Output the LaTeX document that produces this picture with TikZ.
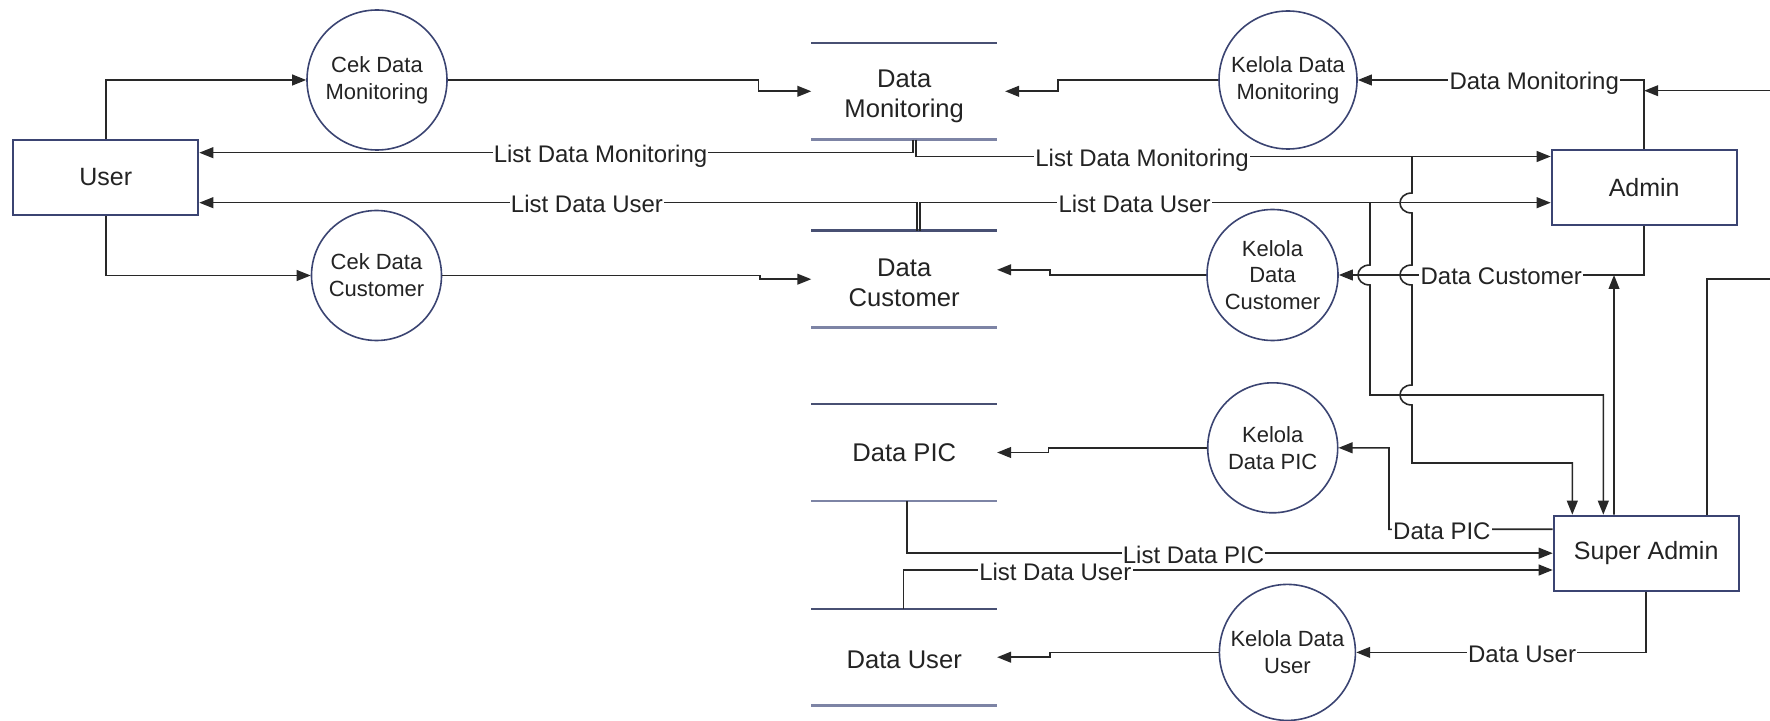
\documentclass[tikz,border=0pt]{standalone}
\usepackage{fontspec}
\setmainfont{Liberation Sans}
\usetikzlibrary{arrows.meta}
\definecolor{navy}{RGB}{59,68,114}
\definecolor{stTop}{RGB}{72,80,115}
\definecolor{stBot}{RGB}{125,132,165}
\definecolor{wirecol}{RGB}{40,40,40}
\definecolor{ink}{RGB}{35,35,35}
\begin{document}
\begin{tikzpicture}[x=0.5pt,y=-0.5pt,
 ent/.style={rectangle, draw=navy, line width=1pt, fill=white, minimum width=92.5pt, minimum height=37.5pt, inner sep=0pt, text=ink, font=\fontsize{12.5}{15}\selectfont},
 proc/.style={circle, draw=navy, line width=0.8pt, inner sep=0pt, align=center, text=ink, font=\fontsize{11}{13.4}\selectfont},
 store/.style={rectangle, minimum width=92.5pt, minimum height=48pt, inner sep=0pt, align=center, text=ink, font=\fontsize{12.8}{15}\selectfont},
 flow/.style={draw=wirecol, line width=0.8pt, -{Triangle[length=7pt,width=5.4pt]}},
 plain/.style={draw=wirecol, line width=0.8pt},
 lbl/.style={fill=white, inner xsep=0.6pt, inner ysep=1pt, text height=10pt, text depth=0pt, text=ink, font=\fontsize{12}{14}\selectfont},
 sttop/.style={draw=stTop, line width=1.3pt},
 stbot/.style={draw=stBot, line width=1.2pt},
]
\useasboundingbox (0,0) rectangle (1770,721);

% entities
\node[ent] (user) at (105.8,177.3) {User};
\node[ent] (admin) at (1644.2,187.7) {Admin};
\node[ent] (sadmin) at (1646.2,553.2) {Super Admin};

% processes
\node[proc, minimum size=70pt] (cdm) at (377,80) {Cek Data\\Monitoring};
\node[proc, minimum size=65pt] (cdc) at (376.5,275.5) {Cek Data\\Customer};
\node[proc, minimum size=69pt] (kdm) at (1288,80) {Kelola Data\\Monitoring};
\node[proc, minimum size=65.5pt] (kdc) at (1272.5,275) {Kelola\\Data\\Customer};
\node[proc, minimum size=65pt] (kdp) at (1272.7,447.8) {Kelola\\Data PIC};
\node[proc, minimum size=68pt] (kdu) at (1287.4,652.4) {Kelola Data\\User};

% data stores
\node[store] (dm) at (904.2,91.3) {\rule{0pt}{13.7pt}Data\\Monitoring};
\node[store] (dc) at (904.2,279.2) {\rule{0pt}{12.2pt}Data\\Customer};
\node[store] (dpic) at (904.2,452.5) {Data PIC};
\node[store] (duser) at (904.2,657.2) {\rule{0pt}{11.4pt}Data User};
\foreach \s in {dm,dc,dpic,duser}{
  \draw[sttop] (\s.north west) -- (\s.north east);
  \draw[stbot] (\s.south west) -- (\s.south east);
}

% free ends and junctions
\coordinate (inA) at (1770,90.7);
\coordinate (outR) at (1770,279);
\coordinate (ja) at (1370,202.7);
\coordinate (jb) at (1412,156.5);
\coordinate (dcj) at (1614,275);

% user side
\draw[flow] (user.north) |- (cdm);
\draw[flow] (user.south) |- (cdc);
\draw[flow] (cdm.east) -- (758.5,80) |- (dm.west);
\draw[flow] (cdc.east) -- (760,275.5) |- (dc.west);
\draw[flow] ([xshift=4.5pt]dm.south) |- node[lbl,pos=0.719]{List Data Monitoring} ([yshift=12.3pt]user.east);
\draw[flow] ([xshift=6.5pt]dc.north) |- node[lbl,pos=0.73]{List Data User} ([yshift=-12.7pt]user.east);

% admin side
\draw[flow] ([xshift=6pt]dm.south) |- node[lbl,pos=0.678]{List Data Monitoring} ([yshift=15.6pt]admin.west);
\draw[flow] ([xshift=8pt]dc.north) |- node[lbl,pos=0.67]{List Data User} ([yshift=-7.5pt]admin.west);
\draw[flow] (admin.north) |- node[lbl,pos=0.692]{Data Monitoring} (kdm);
\draw[flow] (inA) -- (admin.north |- inA);
\draw[flow] (kdm.west) -- (1057.7,80) |- ([xshift=4pt]dm.east);
\draw[flow] (admin.south) |- node[lbl,pos=0.734]{Data Customer} (kdc);
\draw[flow] ([xshift=-16.1pt]sadmin.north) -- (dcj);
\draw[flow] (kdc.west) -- (1050,275) |- ([yshift=4.7pt]dc.east);

% super admin side
\draw[flow] ([yshift=12pt]sadmin.west) -- node[lbl,pos=0.677]{Data PIC} (1389,529.3) |- (kdp);
\draw[flow] (kdp.west) -- (1048.6,447.8) |- (dpic.east);
\draw[flow] ([xshift=-0.45pt]duser.north) |- node[lbl,pos=0.617]{List Data User} ([yshift=-8.4pt]sadmin.west);
\draw[flow] ([xshift=1.25pt]dpic.south) |- node[lbl,pos=0.722]{List Data PIC} (sadmin.west);
\draw[flow] (sadmin.south) |- node[lbl,pos=0.714]{Data User} (kdu);
\draw[flow] (kdu.west) -- (1050,652.4) |- (duser.east);
\draw[plain] ([xshift=30.25pt]sadmin.north) |- (outR);

% vertical lines with hops
\draw[flow] (ja) -- (1370,265) .. controls (1354,265) and (1354,285) .. (1370,285) -- (1370,395) -| ([xshift=-21.45pt]sadmin.north);
\draw[flow] (jb) -- (1412,193) .. controls (1396,193) and (1396,213) .. (1412,213) -- (1412,265) .. controls (1396,265) and (1396,285) .. (1412,285) -- (1412,385) .. controls (1396,385) and (1396,405) .. (1412,405) -- (1412,463) -| ([xshift=-36.95pt]sadmin.north);
\end{tikzpicture}
\end{document}
